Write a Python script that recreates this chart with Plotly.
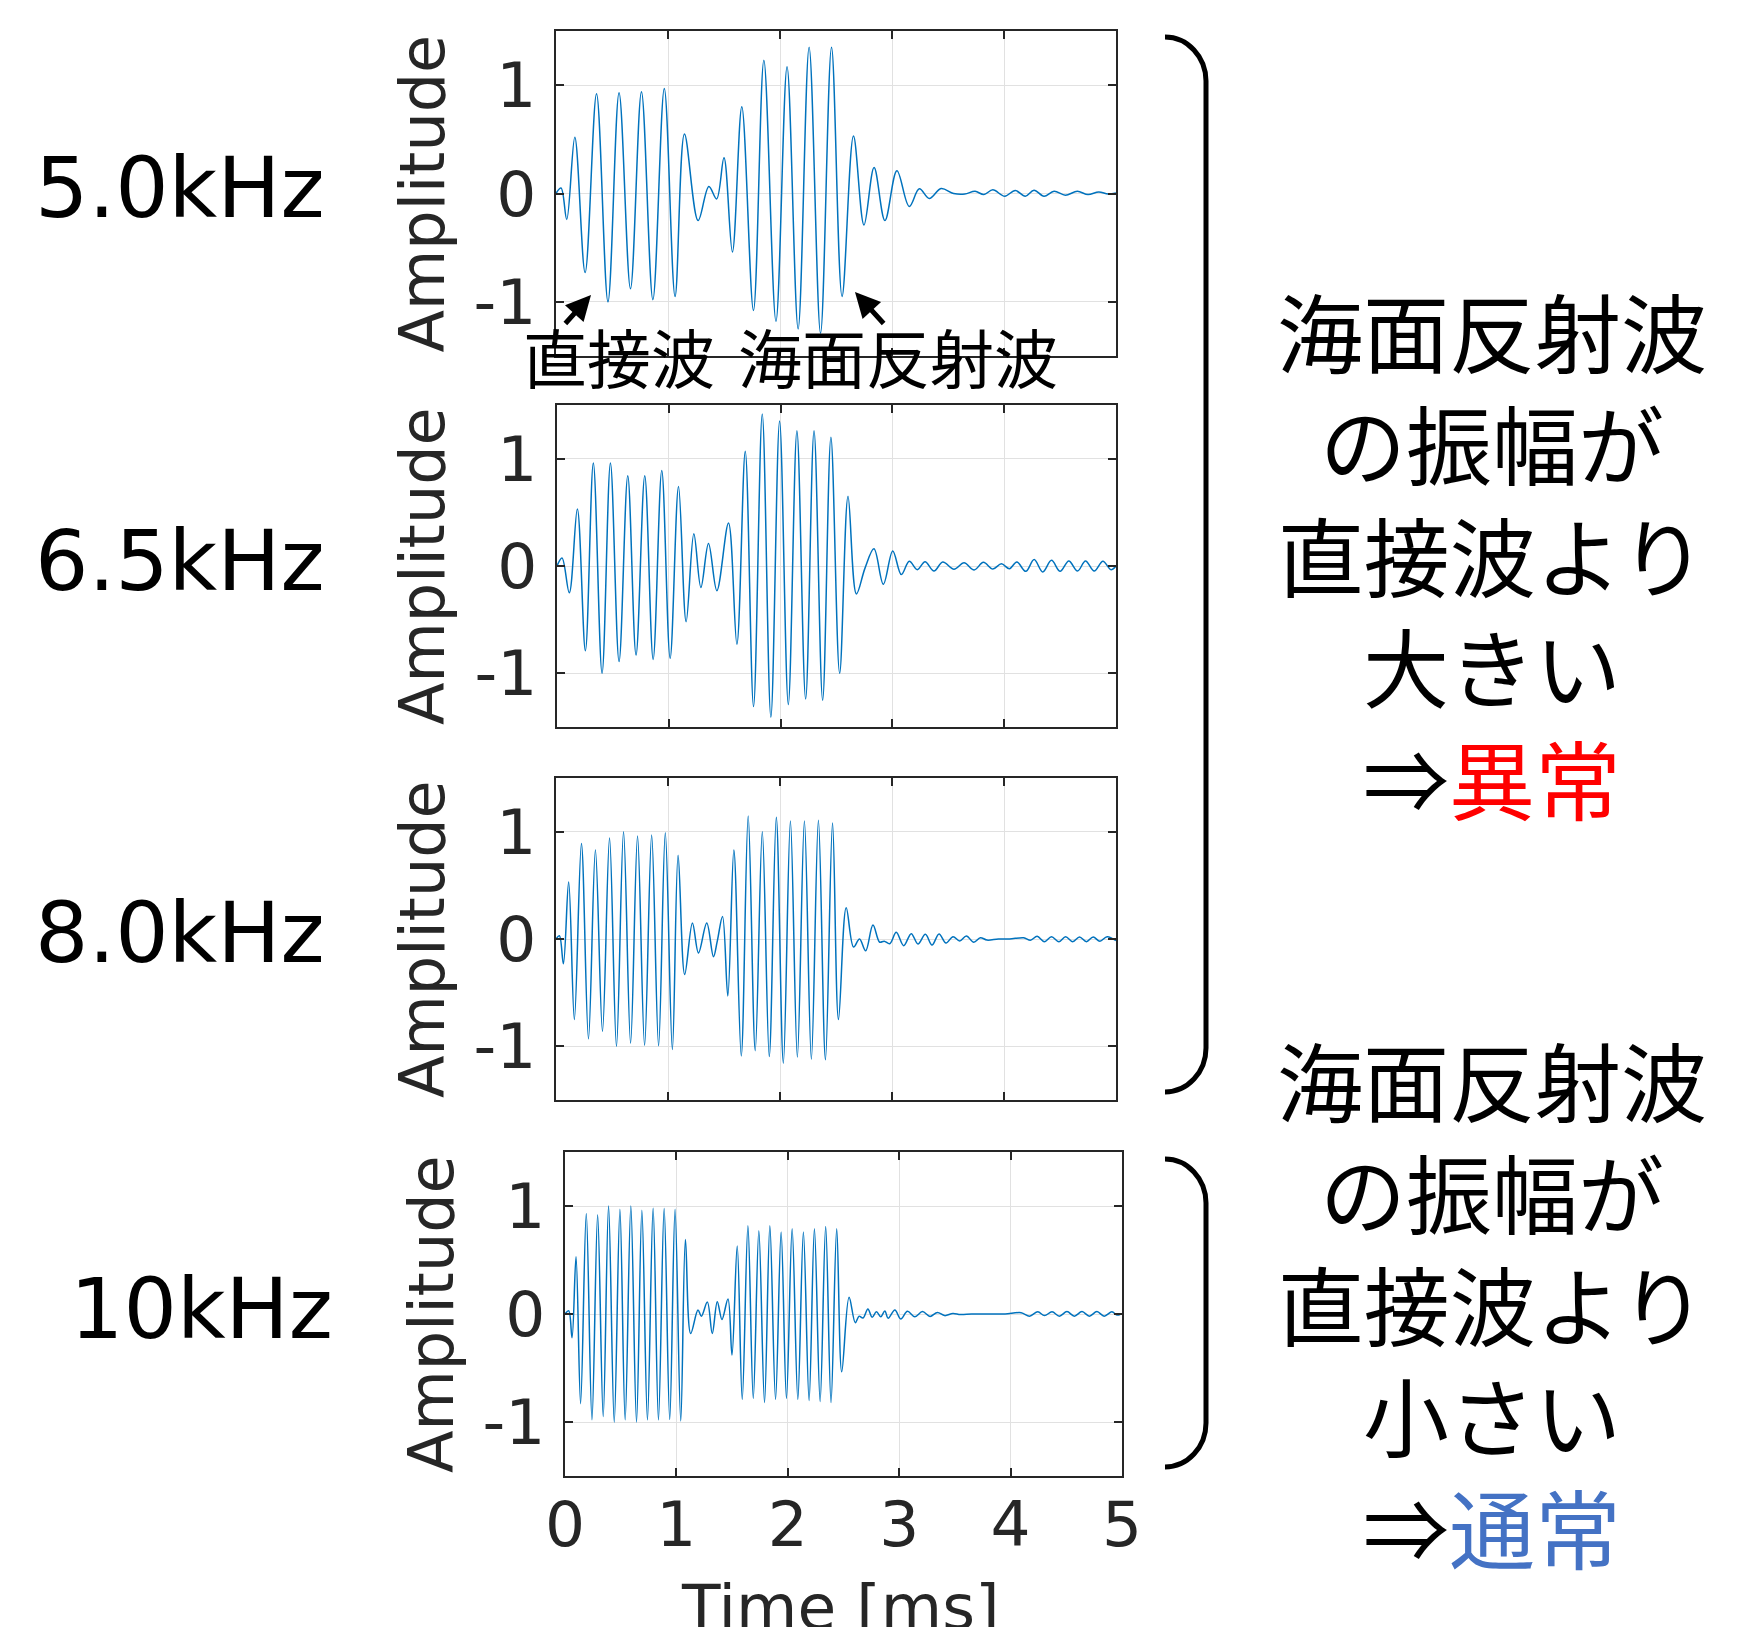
import plotly.graph_objects as go

# ---------------- data (extrema of each waveform) ----------------
freq_labels = ["5.0kHz", "6.5kHz", "8.0kHz", "10kHz"]

t1 = [0, 0.045, 0.096, 0.168, 0.26, 0.362, 0.464, 0.563, 0.665, 0.763,
      0.865, 0.967, 1.063, 1.147, 1.269, 1.365, 1.434, 1.5, 1.575, 1.659,
      1.763, 1.856, 1.964, 2.063, 2.162, 2.26, 2.362, 2.46, 2.554, 2.656,
      2.75, 2.84, 2.937, 3.044, 3.154, 3.244, 3.333, 3.438, 3.55, 3.65,
      3.742, 3.82, 3.90, 4.007, 4.10, 4.19, 4.268, 4.357, 4.447, 4.548,
      4.655, 4.75, 4.846, 4.93, 5.0]
a1 = [0, 0.05, -0.24, 0.52, -0.73, 0.92, -1.0, 0.93, -0.88, 0.94,
      -0.98, 0.97, -0.95, 0.55, -0.25, 0.065, -0.05, 0.33, -0.54, 0.80,
      -1.08, 1.23, -1.18, 1.17, -1.25, 1.35, -1.29, 1.35, -0.95, 0.53,
      -0.29, 0.24, -0.25, 0.21, -0.12, 0.043, -0.046, 0.046, 0.0, -0.005,
      0.02, -0.01, 0.034, -0.025, 0.028, -0.025, 0.03, -0.025, 0.02, -0.015,
      0.02, -0.01, 0.015, -0.005, 0.005]

t2 = [0, 0.045, 0.11, 0.182, 0.254, 0.325, 0.403, 0.478, 0.555, 0.633,
      0.707, 0.785, 0.86, 0.937, 1.012, 1.087, 1.155, 1.224, 1.287, 1.355,
      1.43, 1.534, 1.609, 1.684, 1.758, 1.836, 1.913, 1.991, 2.069, 2.146,
      2.224, 2.299, 2.376, 2.45, 2.528, 2.603, 2.678, 2.755, 2.835, 2.919,
      3.003, 3.08, 3.151, 3.223, 3.292, 3.372, 3.45, 3.551, 3.641, 3.731,
      3.814, 3.898, 3.975, 4.047, 4.113, 4.193, 4.268, 4.345, 4.423, 4.50,
      4.578, 4.656, 4.727, 4.805, 4.883, 4.955, 5.0]
a2 = [0, 0.075, -0.25, 0.53, -0.79, 0.96, -1.0, 0.96, -0.89, 0.84,
      -0.83, 0.84, -0.87, 0.89, -0.86, 0.74, -0.52, 0.30, -0.20, 0.21,
      -0.23, 0.40, -0.73, 1.07, -1.31, 1.415, -1.41, 1.35, -1.29, 1.26,
      -1.24, 1.26, -1.25, 1.20, -1.0, 0.65, -0.26, -0.02, 0.16, -0.17,
      0.14, -0.08, 0.044, -0.034, 0.04, -0.047, 0.037, -0.03, 0.03, -0.037,
      0.034, -0.028, 0.02, -0.025, 0.037, -0.05, 0.06, -0.056, 0.053, -0.05,
      0.047, -0.047, 0.047, -0.047, 0.044, -0.034, 0.0]

t3 = [0, 0.03, 0.066, 0.113, 0.164, 0.227, 0.29, 0.352, 0.415, 0.478,
      0.54, 0.603, 0.666, 0.728, 0.791, 0.854, 0.916, 0.976, 1.039, 1.09,
      1.149, 1.218, 1.272, 1.346, 1.406, 1.44, 1.487, 1.534, 1.588, 1.654,
      1.716, 1.779, 1.842, 1.904, 1.967, 2.03, 2.093, 2.155, 2.218, 2.28,
      2.343, 2.406, 2.469, 2.522, 2.591, 2.657, 2.71, 2.765, 2.83, 2.89,
      2.93, 2.98, 3.038, 3.104, 3.172, 3.232, 3.298, 3.357, 3.42, 3.482,
      3.545, 3.604, 3.664, 3.73, 3.789, 3.848, 3.95, 4.05, 4.176, 4.236,
      4.296, 4.36, 4.424, 4.49, 4.55, 4.614, 4.674, 4.736, 4.796, 4.856,
      4.921, 5.0]
a3 = [0, 0.03, -0.23, 0.53, -0.75, 0.89, -0.93, 0.83, -0.86, 0.94,
      -1.0, 1.0, -0.97, 0.96, -0.99, 0.97, -0.995, 0.99, -1.03, 0.78,
      -0.33, 0.15, -0.13, 0.15, -0.165, -0.02, 0.21, -0.53, 0.83, -1.09,
      1.145, -1.04, 1.0, -1.095, 1.135, -1.157, 1.10, -1.10, 1.10, -1.12,
      1.107, -1.126, 1.08, -0.75, 0.29, -0.075, 0.0, -0.11, 0.13, -0.03,
      -0.02, -0.044, 0.062, -0.062, 0.05, -0.047, 0.044, -0.056, 0.047, -0.037,
      0.022, -0.019, 0.028, -0.03, 0.0125, -0.01, 0.0, 0.0, 0.012, -0.012,
      0.025, -0.025, 0.022, -0.025, 0.022, -0.025, 0.019, -0.025, 0.019, -0.022,
      0.022, -0.015]

t4 = [0, 0.033, 0.063, 0.099, 0.14, 0.191, 0.242, 0.293, 0.343, 0.391,
      0.442, 0.493, 0.54, 0.591, 0.642, 0.69, 0.74, 0.791, 0.839, 0.89,
      0.94, 0.988, 1.039, 1.081, 1.128, 1.194, 1.224, 1.278, 1.322, 1.367,
      1.409, 1.463, 1.499, 1.546, 1.591, 1.642, 1.69, 1.74, 1.791, 1.839,
      1.89, 1.94, 1.988, 2.039, 2.09, 2.14, 2.191, 2.239, 2.29, 2.34,
      2.388, 2.439, 2.484, 2.55, 2.606, 2.64, 2.675, 2.719, 2.757, 2.796,
      2.835, 2.871, 2.901, 2.961, 3.014, 3.074, 3.14, 3.209, 3.277, 3.343,
      3.408, 3.482, 3.55, 3.65, 3.8, 3.95, 4.095, 4.17, 4.244, 4.304,
      4.372, 4.438, 4.506, 4.572, 4.641, 4.707, 4.775, 4.84, 4.91, 4.954,
      4.99]
a4 = [0, 0.03, -0.22, 0.53, -0.83, 0.93, -0.98, 0.92, -0.95, 1.0,
      -1.0, 0.97, -0.98, 1.0, -1.0, 0.96, -0.98, 0.98, -0.98, 0.977,
      -0.977, 0.97, -0.99, 0.69, -0.18, 0.037, -0.02, 0.11, -0.18, 0.114,
      -0.05, 0.14, -0.38, 0.63, -0.79, 0.816, -0.78, 0.77, -0.82, 0.816,
      -0.79, 0.76, -0.78, 0.79, -0.79, 0.76, -0.80, 0.79, -0.81, 0.81,
      -0.82, 0.79, -0.535, 0.155, -0.08, -0.02, -0.037, 0.046, -0.03, 0.02,
      -0.025, 0.028, -0.04, 0.037, -0.046, 0.025, -0.025, 0.022, -0.022, 0.015,
      -0.015, 0.005, -0.005, 0.0, 0.0, 0.0, 0.012, -0.02, 0.02, -0.015,
      0.02, -0.02, 0.022, -0.02, 0.022, -0.02, 0.022, -0.02, 0.02, -0.01,
      0.0]

x_ticks = [0, 1, 2, 3, 4, 5]
y_ticks = [-1, 0, 1]
y_ticktext = ["-1", "0", "1"]

block_high = ["海面反射波", "の振幅が", "直接波より", "大きい",
              "⇒<span style='color:#FF0000'>異常</span>"]
block_low = ["海面反射波", "の振幅が", "直接波より", "小さい",
             "⇒<span style='color:#4472C4'>通常</span>"]

# ---------------- layout geometry (target pixels) ----------------
W, H = 1756, 1627


def px(x):
    return x / W


def py(y):
    return 1 - y / H


panels = [
    dict(x0=556, x1=1116, y0=31, y1=356, lab=(180, 188), amp_x=422),
    dict(x0=557, x1=1116, y0=405, y1=727, lab=(180, 561), amp_x=422),
    dict(x0=556, x1=1116, y0=778, y1=1100, lab=(180, 933), amp_x=422),
    dict(x0=565, x1=1122, y0=1152, y1=1476, lab=(201, 1309), amp_x=431),
]
series = [(t1, a1), (t2, a2), (t3, a3), (t4, a4)]

AX_COL = "#262626"
MAT_FONT = "DejaVu Sans"
JP_FONT = "Noto Sans CJK JP"

fig = go.Figure()
layout = dict(
    width=W, height=H, margin=dict(l=0, r=0, t=0, b=0, autoexpand=False),
    paper_bgcolor="white", plot_bgcolor="white", showlegend=False,
)
annotations = []

for i, (p, (t, a)) in enumerate(zip(panels, series), start=1):
    fig.add_trace(go.Scatter(
        x=t, y=a, mode="lines",
        line=dict(color="#0072BD", width=1.5, shape="spline", smoothing=1.0),
        xaxis=f"x{i}", yaxis=f"y{i}", hoverinfo="skip",
    ))
    common = dict(
        showgrid=True, gridcolor="#e1e1e1", gridwidth=1,
        showline=True, linecolor=AX_COL, linewidth=2, mirror="allticks",
        ticks="inside", ticklen=8, tickwidth=2, tickcolor=AX_COL,
        zeroline=False, tickfont=dict(family=MAT_FONT, size=63, color=AX_COL),
        fixedrange=True, automargin=False,
    )
    layout[f"xaxis{i}"] = dict(
        common, domain=[px(p["x0"]), px(p["x1"])], range=[0, 5],
        anchor=f"y{i}", tickvals=x_ticks, showticklabels=(i == 4),
        ticklabelstandoff=-8,
    )
    layout[f"yaxis{i}"] = dict(
        common, domain=[py(p["y1"]), py(p["y0"])], range=[-1.5, 1.5],
        anchor=f"x{i}", tickvals=y_ticks, ticktext=y_ticktext,
        ticklabelstandoff=5,
    )
    # frequency label
    annotations.append(dict(
        text=freq_labels[i - 1], x=px(p["lab"][0]), y=py(p["lab"][1]),
        xref="paper", yref="paper", xanchor="center", yanchor="middle",
        showarrow=False, font=dict(family=MAT_FONT, size=84, color="black"),
    ))
    # y-axis title
    annotations.append(dict(
        text="Amplitude", x=px(p["amp_x"]), y=py((p["y0"] + p["y1"]) / 2),
        xref="paper", yref="paper", xanchor="center", yanchor="middle",
        textangle=-90, showarrow=False,
        font=dict(family=MAT_FONT, size=62, color=AX_COL),
    ))

# x-axis title
annotations.append(dict(
    text="Time [ms]", x=px(840), y=py(1569), xref="paper", yref="paper",
    xanchor="center", yanchor="top", showarrow=False,
    font=dict(family=MAT_FONT, size=63, color=AX_COL),
))

# labels inside first panel with arrows
annotations.append(dict(
    text="直接波", x=px(619), y=py(355), xref="paper", yref="paper",
    xanchor="center", yanchor="middle", showarrow=False,
    font=dict(family=JP_FONT, size=64, color="black"),
))
annotations.append(dict(
    text="海面反射波", x=px(898), y=py(355), xref="paper", yref="paper",
    xanchor="center", yanchor="middle", showarrow=False,
    font=dict(family=JP_FONT, size=64, color="black"),
))
annotations.append(dict(
    text="", x=px(591), y=py(295), xref="paper", yref="paper",
    showarrow=True, ax=-27, ay=30, arrowhead=2, arrowsize=1.0,
    arrowwidth=5, arrowcolor="black",
))
annotations.append(dict(
    text="", x=px(855), y=py(292), xref="paper", yref="paper",
    showarrow=True, ax=30, ay=33, arrowhead=2, arrowsize=1.0,
    arrowwidth=5, arrowcolor="black",
))

# right-hand explanatory text (one multi-line block each)
for lines, yc in ((block_high, 553), (block_low, 1302)):
    annotations.append(dict(
        text="<br>".join(lines), x=px(1492), y=py(yc), xref="paper", yref="paper",
        xanchor="center", yanchor="middle", align="center", showarrow=False,
        font=dict(family=JP_FONT, size=86, color="black"),
    ))


# brackets
def bracket(xl, xr, yt, yb, r):
    k = 0.55
    return (f"M {px(xl)},{py(yt)} "
            f"C {px(xl + (xr - xl) * k)},{py(yt)} {px(xr)},{py(yt + r * (1 - k))} {px(xr)},{py(yt + r)} "
            f"L {px(xr)},{py(yb - r)} "
            f"C {px(xr)},{py(yb - r * (1 - k))} {px(xl + (xr - xl) * k)},{py(yb)} {px(xl)},{py(yb)}")


shapes = [
    dict(type="path", xref="paper", yref="paper", path=bracket(1165, 1206, 37, 1092, 44),
         line=dict(color="black", width=5)),
    dict(type="path", xref="paper", yref="paper", path=bracket(1165, 1206, 1159, 1467, 44),
         line=dict(color="black", width=5)),
]

layout["annotations"] = annotations
layout["shapes"] = shapes
fig.update_layout(**layout)
fig.write_html(
    "out.html",
    config={"displayModeBar": False},
    post_script="document.body.style.margin='0';document.body.style.padding='0';",
)
